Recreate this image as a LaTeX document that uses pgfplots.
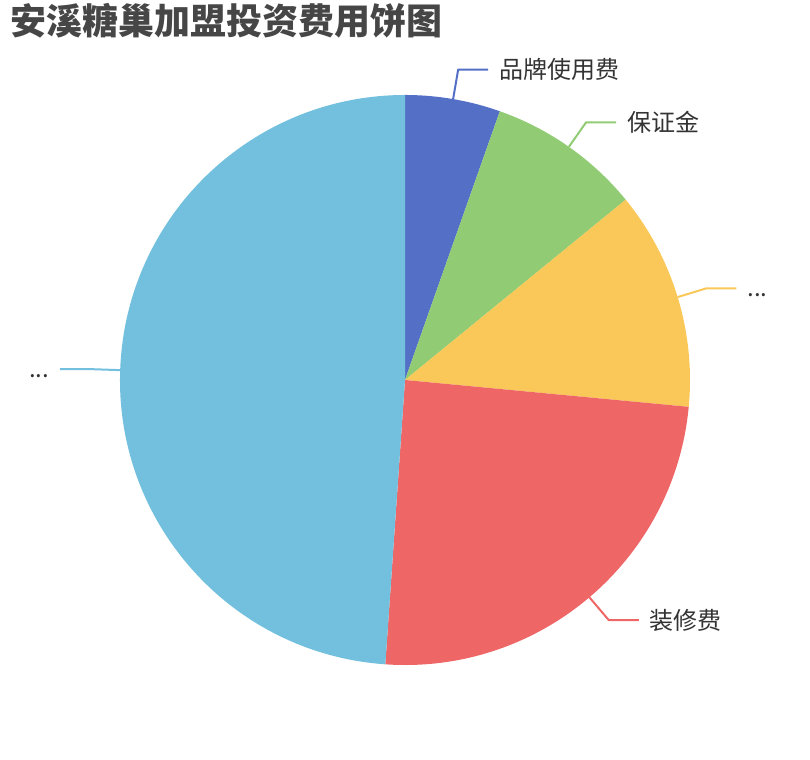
\documentclass[border=0pt]{standalone}
\usepackage{pgfplots}
\pgfplotsset{compat=1.18}
\usepackage{pgfplotstable}
\usepackage{fontspec}
\setmainfont{Noto Sans CJK SC}
\usetikzlibrary{calc}
\definecolor{c0}{HTML}{5470C6}
\definecolor{c1}{HTML}{91CC75}
\definecolor{c2}{HTML}{FAC858}
\definecolor{c3}{HTML}{EE6666}
\definecolor{c4}{HTML}{73C0DE}
\definecolor{titlegray}{HTML}{464646}
\definecolor{labelgray}{HTML}{333333}

% shares (%)
\pgfplotstableread[col sep=comma]{
name,value
品牌使用费,5.4
保证金,8.7
...,12.4
装修费,24.6
...,48.9
}\feedata

% slice angles: start at 12 o'clock, clockwise
\pgfplotstablegetrowsof{\feedata}
\pgfmathtruncatemacro\nrows{\pgfplotsretval-1}
\def\total{0}
\pgfplotsforeachungrouped \i in {0,...,\nrows}{%
  \pgfplotstablegetelem{\i}{value}\of\feedata
  \pgfmathsetmacro\total{\total+\pgfplotsretval}}
\def\cum{0}
\pgfplotsforeachungrouped \i in {0,...,\nrows}{%
  \pgfplotstablegetelem{\i}{value}\of\feedata
  \let\val\pgfplotsretval
  \pgfmathsetmacro\sa{90-\cum/\total*360}%
  \pgfmathsetmacro\cum{\cum+\val}%
  \pgfmathsetmacro\ea{90-\cum/\total*360}%
  \pgfmathsetmacro\ma{(\sa+\ea)/2}%
  \pgfmathtruncatemacro\sg{cos(\ma)>=0 ? 1 : -1}%
  \ifnum\sg>0 \def\an{west}\else\def\an{east}\fi
  \pgfplotstablegetelem{\i}{name}\of\feedata
  \expandafter\let\csname lab\i\endcsname\pgfplotsretval
  \expandafter\let\csname sa\i\endcsname\sa
  \expandafter\let\csname ea\i\endcsname\ea
  \expandafter\let\csname ma\i\endcsname\ma
  \expandafter\let\csname sg\i\endcsname\sg
  \expandafter\let\csname an\i\endcsname\an
}

\begin{document}
\begin{tikzpicture}
\begin{axis}[
    hide axis,
    scale only axis,
    width=810bp, height=760bp,
    xmin=0, xmax=810, ymin=0, ymax=760,
    clip=false,
]
\path (axis cs:0,0) rectangle (axis cs:810,760);
\pgfplotsinvokeforeach{0,...,4}{
  \fill[c#1] (axis cs:405,380) -- ++(\csname sa#1\endcsname:285bp)
    arc[start angle=\csname sa#1\endcsname, end angle=\csname ea#1\endcsname, radius=285bp] -- cycle;
  \draw[c#1, line width=2bp, line join=round]
    ($(axis cs:405,380)+(\csname ma#1\endcsname:285bp)$) -- ++(\csname ma#1\endcsname:30bp)
    -- ++({\csname sg#1\endcsname*30bp},0)
    node[anchor=\csname an#1\endcsname, inner sep=0pt, xshift=\csname sg#1\endcsname*10bp,
         text=labelgray, font=\fontsize{24bp}{28bp}\selectfont]
    {\vphantom{品}\csname lab#1\endcsname};
}
\node[anchor=base west, inner sep=0pt, text=titlegray,
      font=\bfseries\fontsize{36bp}{40bp}\selectfont]
  at (axis cs:10,725.5) {安溪糖巢加盟投资费用饼图};
\end{axis}
\end{tikzpicture}
\end{document}
